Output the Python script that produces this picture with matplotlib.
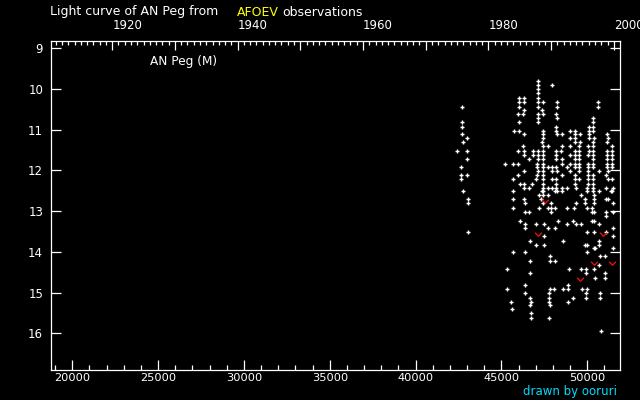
import matplotlib
matplotlib.use('Agg')
import matplotlib.pyplot as plt
from matplotlib.path import Path
from matplotlib.ticker import FixedLocator, MultipleLocator, FuncFormatter

# ---------------- data ----------------
title_parts = ["Light curve of AN Peg from", "AFOEV", "observations"]
star_label = "AN Peg (M)"
credit = "drawn by ooruri"

jd_ticks = [20000, 25000, 30000, 35000, 40000, 45000, 50000]
mag_ticks = [9, 10, 11, 12, 13, 14, 15, 16]
year_ticks = [1910, 1920, 1930, 1940, 1950, 1960, 1970, 1980, 1990, 2000]
year_labels = [1920, 1940, 1960, 1980, 2000]

# visual observations (JD - 2400000) grouped by magnitude
obs_mag = [9.80, 9.90, 10.00, 10.10, 10.23, 10.33, 10.43, 10.52, 10.62, 10.72,
           10.82, 10.92, 11.02, 11.11, 11.21, 11.31, 11.41, 11.52, 11.62, 11.73,
           11.83, 11.92, 12.02, 12.12, 12.22, 12.32, 12.42, 12.51, 12.61, 12.71,
           12.81, 12.93, 13.03, 13.13, 13.23, 13.32, 13.42, 13.52, 13.62, 13.72,
           13.82, 13.91, 14.01, 14.11, 14.23, 14.33, 14.43, 14.53, 14.63, 14.82,
           14.92, 15.02, 15.12, 15.22, 15.31, 15.41, 15.51, 15.63, 15.93]
obs_jd = [
    [47109],
    [47109, 47964],
    [47109],
    [47109],
    [46041, 46332, 47109],
    [46041, 46332, 47109, 47439, 48255, 50643],
    [42720, 46041, 47109, 48255, 50643],
    [46332, 47381],
    [45983, 46274, 47109, 47439, 48196],
    [47109, 48255, 50352],
    [42720, 46022, 47109, 50352],
    [42720, 48196, 50119, 50352],
    [45750, 46041, 47439, 48196, 49012, 49303, 50119, 50352],
    [42720, 46332, 47439, 48255, 48546, 49303, 49594, 50119, 51167],
    [43011, 47439, 49012, 49303, 50119, 50410, 51226],
    [42778, 47381, 49303, 49594, 50352, 51167],
    [46274, 47439, 47730, 48546, 49012, 49536, 50060, 50352, 51459],
    [42429, 43011, 45983, 46332, 46857, 47148, 47439, 48196, 48488, 49303,
     49536, 50119, 50352, 51167, 51459],
    [46332, 46818, 47148, 47439, 48196, 49012, 49303, 49536, 50060, 50352,
     51167, 51459],
    [43011, 46624, 47148, 47439, 48196, 48546, 49303, 49536, 50352, 51167,
     51459],
    [45225, 45691, 45983, 47090, 47439, 48546, 49012, 49303, 49536, 50060,
     50352, 51167, 51459],
    [42662, 47090, 47439, 47730, 47964, 48196, 48837, 49303, 49536, 50060,
     50352, 51167, 51459],
    [46332, 47148, 47439, 47964, 48255, 49012, 49536, 50060, 50701, 51226],
    [42662, 43011, 45983, 47090, 47439, 48546, 49303, 50060, 50352, 51109],
    [42662, 45691, 47031, 47439, 47964, 48196, 49303, 49536, 50060, 50352,
     51226, 51459],
    [46080, 46332, 46798, 47439, 48196, 49303, 50060, 50352],
    [46332, 46624, 47439, 47730, 47964, 48196, 48546, 48837, 49361, 50002,
     50352, 51109, 51517],
    [42778, 45691, 47342, 47439, 48138, 48255, 48546, 50002, 50352, 50701,
     51400, 51459],
    [47206, 47439, 47730, 49653, 50410],
    [43070, 45691, 46332, 47323, 49886, 50410, 51109, 51226],
    [43070, 46391, 47439, 47905, 49361, 49886, 50410, 51517],
    [45691, 47206, 47730, 47905, 48138, 48837, 49245, 50002, 50293],
    [46391, 46624, 47905, 50293, 50410, 51109, 51517],
    [51109],
    [46099, 48313, 49187, 50293, 50410],
    [46391, 47031, 47497, 48837, 49361, 49653, 50701],
    [46391, 47730, 48138, 51517],
    [43070, 50002, 50410, 51109],
    [47497, 51517],
    [46682, 48604, 50701],
    [47031, 47497, 49886, 50002, 50701],
    [50410, 50468, 51517],
    [45691, 46391, 50002],
    [47847, 50759, 51051],
    [46682, 47847, 48138],
    [50701],
    [45342, 48954, 49653, 49944, 50410],
    [46682, 49944, 51051],
    [50468, 51051],
    [46391, 48896],
    [45342, 47847, 48080, 48604, 48896, 49711, 50002],
    [46391, 47789, 49944, 50759],
    [46682, 47789, 49187, 49944, 50759],
    [45575, 46740, 47789, 48896],
    [46682, 47847],
    [45633],
    [46740],
    [46740, 47789],
    [50818],
]

# "fainter than" observations
limit_jd = [47556, 47148, 50934, 50410, 51459, 49594]
limit_mag = [12.76, 13.56, 13.56, 14.28, 14.28, 14.67]

# ---------------- plot ----------------
W, H = 640, 400
fig = plt.figure(figsize=(W / 100, H / 100), dpi=100, facecolor='black')
ax = fig.add_axes([50.7 / W, 30 / H, (620 - 50.7) / W, (370 - 41) / H])
ax.set_facecolor('black')

xs = [j for row in obs_jd for j in row]
ys = [m for m, row in zip(obs_mag, obs_jd) for _ in row]
ax.plot(xs, ys, linestyle='none', marker='+', color='white',
        markersize=3.4, markeredgewidth=1.0)

vmark = Path([(-1.0, 0.5), (0.0, -0.5), (1.0, 0.5)],
             [Path.MOVETO, Path.LINETO, Path.LINETO])
ax.plot(limit_jd, limit_mag, linestyle='none', marker=vmark,
        markerfacecolor='none', markeredgecolor='#e01010',
        markersize=5, markeredgewidth=1.0)

ax.set_xlim(18742, 51905)
ax.set_ylim(16.90, 8.82)

for s in ax.spines.values():
    s.set_color('white')
    s.set_linewidth(0.9)

ax.xaxis.set_major_locator(FixedLocator(jd_ticks))
ax.xaxis.set_minor_locator(MultipleLocator(1000))
ax.yaxis.set_major_locator(FixedLocator(mag_ticks))
ax.tick_params(axis='x', which='major', direction='in', length=7.5, width=0.9,
               color='white', labelcolor='white', labelsize=8.2, pad=2.5, top=False)
ax.tick_params(axis='x', which='minor', direction='in', length=3.6, width=0.9,
               color='white', top=False)
ax.tick_params(axis='y', which='major', direction='in', length=7.2, width=0.9,
               color='white', labelcolor='white', labelsize=8.5, pad=5.5,
               left=True, right=True)
ax.xaxis.set_major_formatter(FuncFormatter(lambda v, p: f"{int(v)}"))


def jd2year(jd):
    return 2000.0 + (jd - 51544.5) / 365.25


def year2jd(y):
    return 51544.5 + (y - 2000.0) * 365.25


sec = ax.secondary_xaxis('top', functions=(jd2year, year2jd))
sec.spines['top'].set_visible(False)
sec.xaxis.set_major_locator(FixedLocator(year_ticks))
sec.xaxis.set_minor_locator(MultipleLocator(1))
sec.xaxis.set_major_formatter(
    FuncFormatter(lambda v, p: f"{int(round(v))}" if int(round(v)) in year_labels else ""))
sec.tick_params(axis='x', which='major', direction='in', length=6.5, width=0.9,
                color='white', labelcolor='white', labelsize=8.5, pad=6.5)
sec.tick_params(axis='x', which='minor', direction='in', length=3, width=0.9,
                color='white')
for lbl in sec.get_xticklabels():
    lbl.set_horizontalalignment('left')

ax.text(150 / W, 1 - 61 / H, star_label, transform=fig.transFigure,
        color='white', fontsize=8.7, va='center', ha='left')

fig.text(50 / W, 1 - 12 / H, title_parts[0], color='white', fontsize=9,
         va='center', ha='left')
fig.text(237 / W, 1 - 12 / H, title_parts[1], color='#ffff00', fontsize=9,
         va='center', ha='left')
fig.text(282 / W, 1 - 12 / H, title_parts[2], color='white', fontsize=9,
         va='center', ha='left')
fig.text(617 / W, 1 - 391 / H, credit, color='#00dcff', fontsize=8.5,
         va='center', ha='right')

fig.savefig('out.png', dpi=100, facecolor='black')
